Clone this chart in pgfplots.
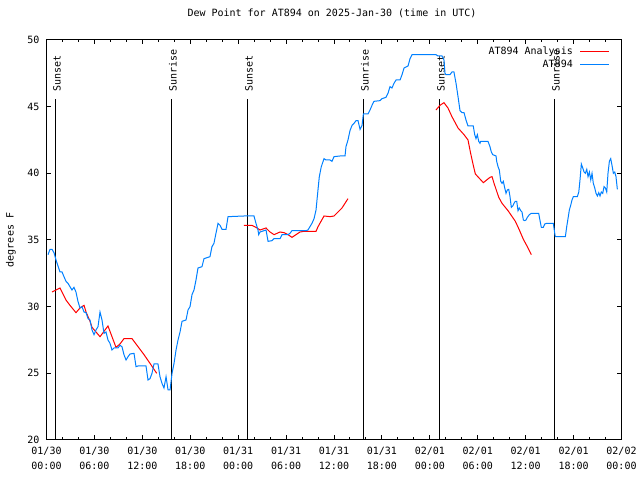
\documentclass[border=0pt]{standalone}
\usepackage{fontspec}
\setmainfont{DejaVu Sans Mono}
\usepackage{pgfplots}
\pgfplotsset{compat=1.18}
\definecolor{dpblue}{RGB}{0,128,255}
\definecolor{dpred}{RGB}{255,0,0}
\begin{document}
\begin{tikzpicture}
\path[use as bounding box] (-46.5bp,-40bp) rectangle (593.5bp,440bp);
\begin{axis}[
  at={(0,0)}, anchor=south west,
  scale only axis, width=575bp, height=400bp,
  xmin=0, xmax=72, ymin=20, ymax=50,
  xtick={0,6,...,72}, minor x tick num=2,
  xticklabels={{01/30\\[2.7bp]00:00},{01/30\\[2.7bp]06:00},{01/30\\[2.7bp]12:00},{01/30\\[2.7bp]18:00},{01/31\\[2.7bp]00:00},{01/31\\[2.7bp]06:00},{01/31\\[2.7bp]12:00},{01/31\\[2.7bp]18:00},{02/01\\[2.7bp]00:00},{02/01\\[2.7bp]06:00},{02/01\\[2.7bp]12:00},{02/01\\[2.7bp]18:00},{02/02\\[2.7bp]00:00}},
  xticklabel style={align=center, font=\fontsize{10bp}{12bp}\selectfont, yshift=-3.8bp},
  ytick={20,25,...,50},
  yticklabel style={xshift=-3.5bp},
  tick align=inside,
  major tick length=4.5bp, minor tick length=2.5bp,
  every tick/.style={black, line width=1bp},
  axis line style={line width=1bp},
  font=\fontsize{10bp}{12bp}\selectfont,
  /pgf/number format/assume math mode=true,
  title={Dew Point for AT894 on 2025-Jan-30 (time in UTC)},
  title style={at={(0.4965,1.0525)}, anchor=center},
  ylabel={degrees F},
  every axis y label/.style={at={(rel axis cs:-0.0617,0.5)}, rotate=90, anchor=center},
  legend style={draw=none, fill=none, at={(0.98,0.9835)}, anchor=north east, inner sep=0pt, row sep=0pt, column sep=7bp, nodes={inner sep=0pt, text height=8bp, text depth=4.7bp}, font=\fontsize{10bp}{12bp}\selectfont},
  legend cell align=right,
  legend plot pos=right,
  legend image code/.code={\draw[#1, line width=1bp] (0bp,1.5bp) -- (29bp,1.5bp);},
]
% sunrise / sunset lines
\addplot[black, line width=1bp, forget plot] coordinates {(1.10,20) (1.10,45.57)};
\addplot[black, line width=1bp, forget plot] coordinates {(15.63,20) (15.63,45.57)};
\addplot[black, line width=1bp, forget plot] coordinates {(25.14,20) (25.14,45.57)};
\addplot[black, line width=1bp, forget plot] coordinates {(39.67,20) (39.67,45.57)};
\addplot[black, line width=1bp, forget plot] coordinates {(49.19,20) (49.19,45.57)};
\addplot[black, line width=1bp, forget plot] coordinates {(63.59,20) (63.59,45.57)};
\node[rotate=90, anchor=west, inner sep=0pt] at (axis cs:1.30,46.1) {Sunset};
\node[rotate=90, anchor=west, inner sep=0pt] at (axis cs:15.83,46.1) {Sunrise};
\node[rotate=90, anchor=west, inner sep=0pt] at (axis cs:25.34,46.1) {Sunset};
\node[rotate=90, anchor=west, inner sep=0pt] at (axis cs:39.87,46.1) {Sunrise};
\node[rotate=90, anchor=west, inner sep=0pt] at (axis cs:49.39,46.1) {Sunset};
\node[rotate=90, anchor=west, inner sep=0pt] at (axis cs:63.79,46.1) {Sunrise};
% analysis (red)
\addplot[dpred, line width=1bp, mark=none] coordinates {
(0.69,31.1) (1.19,31.25) (1.69,31.4) (1.94,31.1) (2.44,30.5) (2.94,30.1) (3.69,29.55)
(4.19,29.9) (4.70,30.1) (4.95,29.6) (5.45,28.9) (5.70,28.45) (6.20,28.1) (6.70,27.75)
(7.70,28.55) (8.20,27.75) (8.70,26.95) (9.20,27.2) (9.70,27.6) (10.71,27.6) (11.21,27.2)
(12.21,26.4) (12.96,25.75) (13.80,25.0)};
\addlegendentry{AT894 Analysis}
\addplot[dpred, line width=1bp, mark=none, forget plot] coordinates {
(24.73,36.1) (25.73,36.1) (26.23,35.95) (26.73,35.75) (27.49,35.9) (27.99,35.6) (28.49,35.4)
(29.24,35.6) (29.74,35.55) (30.24,35.4) (30.74,35.2) (31.24,35.4) (31.74,35.6) (32.24,35.65)
(33.75,35.65) (34.00,36.0) (34.75,36.8) (35.50,36.75) (36.00,36.8) (36.50,37.1) (37.00,37.4)
(37.75,38.1)};
\addplot[dpred, line width=1bp, mark=none, forget plot] coordinates {
(48.77,44.75) (49.27,45.1) (49.77,45.3) (50.27,44.9) (50.77,44.25) (51.53,43.4) (52.28,42.9)
(52.78,42.5) (53.11,41.5) (53.44,40.6) (53.70,39.95) (54.70,39.3) (55.53,39.7) (55.79,39.75)
(56.04,39.25) (56.63,38.2) (57.04,37.75) (57.79,37.2) (58.71,36.4) (59.21,35.75) (59.71,35.05)
(60.21,34.5) (60.71,33.9)};
% observations (blue)
\addplot[dpblue, line width=1bp, mark=none] coordinates {
(0.19,33.9) (0.44,34.3) (0.69,34.3) (0.94,34.05) (1.19,33.5) (1.69,32.6) (1.94,32.6)
(2.19,32.25) (2.44,31.9) (2.69,31.75) (2.94,31.5) (3.19,31.25) (3.44,31.45) (3.69,31.1)
(3.94,30.4) (4.19,29.9) (4.44,30.0) (4.70,29.6) (4.95,29.55) (5.20,29.1) (5.45,29.0)
(5.70,28.25) (5.95,27.9) (6.20,28.25) (6.45,28.5) (6.70,29.6) (6.95,29.0) (7.20,28.0)
(7.45,28.1) (7.70,27.5) (7.95,27.25) (8.20,26.75) (8.45,26.9) (8.95,26.9) (9.20,27.1)
(9.45,27.0) (9.70,26.4) (9.96,26.0) (10.21,26.25) (10.46,26.45) (10.96,26.5) (11.21,25.5)
(11.46,25.55) (12.46,25.55) (12.71,24.5) (12.96,24.6) (13.21,25.0) (13.46,25.7) (13.96,25.7)
(14.21,24.75) (14.46,24.25) (14.71,23.9) (14.97,24.75) (15.22,23.75) (15.47,23.75) (15.72,25.0)
(15.97,25.75) (16.22,26.75) (16.47,27.5) (16.72,28.1) (16.97,28.9) (17.47,29.0) (17.72,29.75)
(17.97,30.0) (18.22,30.9) (18.47,31.25) (18.72,32.0) (18.97,32.9) (19.47,33.0) (19.72,33.6)
(20.47,33.75) (20.72,34.5) (20.97,34.75) (21.22,35.5) (21.48,36.25) (21.73,36.1) (21.98,35.8)
(22.48,35.8) (22.73,36.75) (24.73,36.8) (25.98,36.8) (26.23,36.25) (26.48,35.75) (26.57,35.4)
(26.73,35.6) (27.49,35.75) (27.74,34.9) (28.24,34.95) (28.49,35.1) (29.24,35.1) (29.49,35.4)
(30.24,35.4) (30.49,35.5) (30.74,35.7) (32.49,35.7) (32.74,35.75) (32.99,36.0) (33.24,36.25)
(33.50,36.6) (33.75,37.25) (33.91,38.25) (34.16,39.75) (34.41,40.5) (34.75,41.1) (35.00,41.0)
(35.50,41.0) (35.75,40.9) (36.00,41.25) (36.75,41.3) (37.38,41.3) (37.50,42.0) (37.75,42.5)
(38.00,43.2) (38.26,43.6) (38.51,43.75) (38.76,43.95) (39.01,43.95) (39.26,43.3) (39.51,43.6)
(39.68,44.45) (40.26,44.45) (40.51,44.75) (40.76,45.1) (41.01,45.4) (41.76,45.45) (42.01,45.6)
(42.51,45.7) (42.76,46.0) (43.01,46.5) (43.26,46.4) (43.51,46.75) (43.77,47.0) (44.27,47.0)
(44.52,47.4) (44.77,47.9) (45.27,48.05) (45.52,48.6) (45.77,48.9) (48.77,48.9) (49.02,48.8)
(49.52,48.8) (49.77,48.5) (49.90,47.5) (50.02,47.4) (50.52,47.4) (50.77,47.6) (51.02,47.6)
(51.28,46.75) (51.53,45.75) (51.78,44.7) (52.03,44.55) (52.28,44.55) (52.53,44.0) (52.78,43.55)
(53.44,43.55) (53.62,42.9) (53.78,42.6) (53.95,42.9) (54.12,42.4) (54.28,42.25) (54.37,42.4)
(55.28,42.4) (55.53,42.0) (55.70,41.6) (55.87,41.4) (56.29,41.3) (56.37,40.9) (56.54,40.5)
(56.70,40.25) (56.88,39.4) (57.04,39.25) (57.20,39.4) (57.38,38.9) (57.54,38.5) (57.70,38.75)
(57.88,38.8) (58.04,38.25) (58.20,37.45) (58.38,37.55) (58.54,37.75) (58.70,37.9) (58.88,37.9)
(59.04,37.2) (59.20,37.4) (59.38,37.2) (59.54,37.1) (59.71,36.5) (59.88,36.45) (60.04,36.5)
(60.21,36.7) (60.46,36.9) (60.71,37.0) (61.63,37.0) (61.80,36.45) (61.96,35.95) (62.21,35.95)
(62.39,36.2) (62.64,36.25) (63.46,36.25) (63.64,35.5) (63.71,35.25) (64.97,35.25) (65.14,36.0)
(65.30,36.6) (65.47,37.25) (65.64,37.6) (65.80,38.0) (65.97,38.25) (66.47,38.25) (66.65,38.6)
(66.72,39.0) (66.81,39.55) (66.97,40.7) (67.15,40.4) (67.31,40.1) (67.47,40.0) (67.65,40.3)
(67.81,39.75) (67.98,40.1) (68.15,39.5) (68.31,40.0) (68.47,39.25) (68.65,38.9) (68.81,38.5)
(68.98,38.3) (69.15,38.55) (69.31,38.3) (69.47,38.6) (69.65,38.5) (69.81,39.0) (69.98,38.9)
(70.15,38.6) (70.31,40.0) (70.48,40.9) (70.65,41.1) (70.81,40.6) (70.98,40.0) (71.15,40.1)
(71.31,39.75) (71.48,38.8)};
\addlegendentry{AT894}
\end{axis}
\end{tikzpicture}
\end{document}
